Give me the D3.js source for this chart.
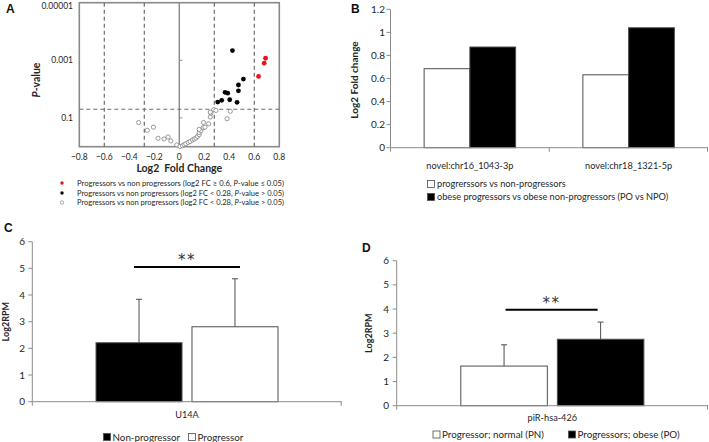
<!DOCTYPE html>
<html><head><meta charset="utf-8">
<script src="https://cdn.jsdelivr.net/npm/d3@7"></script>
<style>
html,body{margin:0;padding:0;background:#fff;}
svg{display:block;font-family:Lato,"Open Sans",sans-serif;}
</style></head>
<body><svg id="c" width="709" height="442"></svg>
<script>
// ---------- DATA ----------
// Panel A: volcano (log2 FC, p-value)
const volcanoRed = [[0.634,0.00363],[0.679,0.00126],[0.690,0.00085]];
const volcanoBlack = [[0.425,0.00046],[0.473,0.0072],[0.473,0.0115],[0.513,0.0045],[0.366,0.0129],
  [0.387,0.0138],[0.339,0.0245],[0.307,0.0282],[0.403,0.0234],[0.462,0.0288]];
const volcanoOpen = [[-0.325,0.145],[-0.256,0.27],[-0.207,0.21],[-0.170,0.51],[-0.122,0.54],[-0.090,0.46],
  [-0.068,0.63],[-0.020,0.87],[0.006,0.98],[0.026,0.93],[0.039,0.85],[0.052,0.79],[0.071,0.71],[0.087,0.66],
  [0.106,0.58],[0.119,0.54],[0.133,0.50],[0.146,0.44],[0.159,0.38],[0.159,0.32],[0.173,0.28],[0.159,0.25],
  [0.191,0.22],[0.205,0.21],[0.194,0.145],[0.235,0.16],[0.248,0.093],[0.253,0.068],[0.275,0.052],[0.293,0.055],
  [0.248,0.063],[0.382,0.107],[0.408,0.059]];
const volcanoFCThresholds = [-0.6,-0.28,0.28,0.6];
const volcanoPThreshold = 0.05;
const volcanoXTicks = [-0.8,-0.6,-0.4,-0.2,0,0.2,0.4,0.6,0.8];
const volcanoYTicks = [0.00001,0.001,0.1];
const volcanoYTickLabels = ["0.00001","0.001","0.1"];
const volcanoLegend = [
  ["Progressors vs non progressors (log2 FC \u2265 0.6, ", "P", "-value \u2264 0.05)"],
  ["Progressors vs non progressors (log2 FC < 0.28, ", "P", "-value > 0.05)"],
  ["Progressors vs non progressors (log2 FC < 0.28, ", "P", "-value > 0.05)"]];

// Panel B
const bCategories = ["novel:chr16_1043-3p","novel:chr18_1321-5p"];
const bSeries = ["progrerssors vs non-progressors","obese progressors vs obese non-progressors (PO vs NPO)"];
const bAll = [0.685, 0.632];
const bObese = [0.873, 1.040];
const bTicks = [0,0.2,0.4,0.6,0.8,1,1.2];
const bTickLabels = ["0","0.2","0.4","0.6","0.8","1","1.2"];

// Panel C
const cCategory = "U14A";
const cGroups = ["Non-progressor","Progressor"];
const cMeans = [2.21, 2.81];
const cErrTop = [3.84, 4.61];
const cSigLevel = 5.05;

// Panel D
const dCategory = "piR-hsa-426";
const dGroups = ["Progressor; normal (PN)","Progressors; obese (PO)"];
const dMeans = [1.64, 2.75];
const dErrTop = [2.52, 3.46];
const dSigLevel = 3.97;
const rpmTicks = [0,1,2,3,4,5,6];

// ---------- DRAW ----------
const svg = d3.select("#c");
const AX = "#8c8c8c", TXT = "#262626", BAR = "#4d4d4d";

function label(t,x,y){ svg.append("text").attr("x",x).attr("y",y).attr("font-family","Arial,Liberation Sans,sans-serif")
  .attr("font-weight","bold").attr("font-size",12).attr("fill","#111").text(t); }

// ===== Panel A =====
(function(){
  const x = d3.scaleLinear().domain([-0.8,0.8]).range([79.3,279.3]);
  const y = d3.scaleLog().domain([1,0.00001]).range([146.7,2.7]);
  const g = svg.append("g");
  g.append("rect").attr("x",x(-0.8)).attr("y",y(0.00001)).attr("width",x(0.8)-x(-0.8)).attr("height",y(1)-y(0.00001))
    .attr("fill","none").attr("stroke","#8a8a8a").attr("stroke-width",1.6);
  g.append("line").attr("x1",x(0)).attr("x2",x(0)).attr("y1",y(1)).attr("y2",y(0.00001)).attr("stroke","#8a8a8a").attr("stroke-width",1.4);
  g.selectAll(".vt").data(volcanoYTicks.slice(1)).join("line").attr("x1",x(0)).attr("x2",x(0)+3)
    .attr("y1",d=>y(d)).attr("y2",d=>y(d)).attr("stroke","#8a8a8a");
  g.selectAll(".vd").data(volcanoFCThresholds).join("line").attr("x1",d=>x(d)).attr("x2",d=>x(d))
    .attr("y1",y(1)).attr("y2",y(0.00001)).attr("stroke","#6e6e6e").attr("stroke-width",1.2).attr("stroke-dasharray","4,3");
  g.append("line").attr("x1",x(-0.8)).attr("x2",x(0.8)).attr("y1",y(volcanoPThreshold)).attr("y2",y(volcanoPThreshold))
    .attr("stroke","#6e6e6e").attr("stroke-width",1.2).attr("stroke-dasharray","4,3");
  g.selectAll(".xt").data(volcanoXTicks).join("text").attr("x",d=>x(d)).attr("y",160).attr("text-anchor","middle")
    .attr("font-size",8.5).attr("fill",TXT).text(d=>d3.format("")(+d.toFixed(1)));
  g.selectAll(".yt").data(volcanoYTicks).join("text").attr("x",73).attr("y",d=>Math.max(y(d)+3,8.5)).attr("text-anchor","end")
    .attr("font-size",8.5).attr("fill",TXT).text((d,i)=>volcanoYTickLabels[i]);
  g.append("text").attr("x",x(0)).attr("y",172).attr("text-anchor","middle").attr("font-weight","bold")
    .attr("font-size",10.5).attr("fill",TXT).attr("xml:space","preserve").text("Log2  Fold Change");
  const yt = g.append("text").attr("transform","translate(40,80) rotate(-90)").attr("text-anchor","middle")
    .attr("font-weight","bold").attr("font-size",10.5).attr("fill",TXT);
  yt.append("tspan").attr("font-style","italic").text("P");
  yt.append("tspan").text("-value");
  g.selectAll(".po").data(volcanoOpen).join("circle").attr("cx",d=>x(d[0])).attr("cy",d=>y(d[1])).attr("r",2.1)
    .attr("fill","#fff").attr("stroke","#808080").attr("stroke-width",0.8);
  g.selectAll(".pb").data(volcanoBlack).join("circle").attr("cx",d=>x(d[0])).attr("cy",d=>y(d[1])).attr("r",2.4).attr("fill","#000");
  g.selectAll(".pr").data(volcanoRed).join("circle").attr("cx",d=>x(d[0])).attr("cy",d=>y(d[1])).attr("r",2.4).attr("fill","#e8141b");
  const ly = [183,193,202.5];
  const mk = [{f:"#e8141b",s:"none"},{f:"#000",s:"none"},{f:"#fff",s:"#808080"}];
  volcanoLegend.forEach((parts,i)=>{
    g.append("circle").attr("cx",62).attr("cy",ly[i]).attr("r",1.7).attr("fill",mk[i].f).attr("stroke",mk[i].s).attr("stroke-width",0.7);
    const t = g.append("text").attr("x",77).attr("y",ly[i]+2.8).attr("font-size",7.2).attr("fill",TXT)
      .attr("textLength",207).attr("lengthAdjust","spacingAndGlyphs");
    t.append("tspan").text(parts[0]);
    t.append("tspan").attr("font-style","italic").text(parts[1]);
    t.append("tspan").text(parts[2]);
  });
  label("A",6,13);
})();

// helper for bar axes
function leftAxis(y, xPos, ticks, labels, labelEnd, fs){
  const g = svg.append("g");
  g.append("line").attr("x1",xPos).attr("x2",xPos).attr("y1",y(ticks[0])).attr("y2",y(ticks[ticks.length-1])).attr("stroke",AX);
  g.selectAll("line.t").data(ticks).join("line").attr("class","t").attr("x1",xPos-4).attr("x2",xPos)
    .attr("y1",d=>y(d)).attr("y2",d=>y(d)).attr("stroke",AX);
  g.selectAll("text").data(ticks).join("text").attr("x",labelEnd).attr("y",d=>y(d)+3.5).attr("text-anchor","end")
    .attr("font-size",fs).attr("fill",TXT).text((d,i)=>labels[i]);
}
function bottomAxis(x0,x1,yPos,tickXs){
  const g = svg.append("g");
  g.append("line").attr("x1",x0).attr("x2",x1).attr("y1",yPos).attr("y2",yPos).attr("stroke",AX);
  g.selectAll("line.t").data(tickXs).join("line").attr("class","t").attr("x1",d=>d).attr("x2",d=>d)
    .attr("y1",yPos).attr("y2",yPos+4).attr("stroke",AX);
}
function ytitle(t,x,y,fs){ svg.append("text").attr("transform",`translate(${x},${y}) rotate(-90)`).attr("text-anchor","middle")
  .attr("font-weight","bold").attr("font-size",fs).attr("fill",TXT).text(t); }

// ===== Panel B =====
(function(){
  const y = d3.scaleLinear().domain([0,1.2]).range([147.7,9.3]);
  const x = d3.scaleBand().domain(bCategories).range([390.5,708]).paddingInner(0).paddingOuter(0);
  const xs = d3.scaleBand().domain([0,1]).range([0,x.bandwidth()]).paddingInner(0).paddingOuter(0.735);
  const fills = ["#fff","#000"];
  const rows = bCategories.map((c,i)=>[bAll[i],bObese[i]]);
  bCategories.forEach((c,i)=>{
    svg.selectAll(null).data(rows[i]).join("rect").attr("x",(d,j)=>x(c)+xs(j)).attr("width",xs.bandwidth())
      .attr("y",d=>y(d)).attr("height",d=>y(0)-y(d)).attr("fill",(d,j)=>fills[j]).attr("stroke",BAR).attr("stroke-width",1);
  });
  leftAxis(y,390.5,bTicks,bTickLabels,385,10);
  bottomAxis(390.5,708,y(0),[x(bCategories[0]),x(bCategories[1]),708-0.5]);
  svg.selectAll(null).data(bCategories).join("text").attr("x",d=>x(d)+x.bandwidth()/2).attr("y",168.5)
    .attr("text-anchor","middle").attr("font-size",9.2).attr("fill",TXT).text(d=>d);
  ytitle("Log2 Fold change",358,80,10);
  const ly=[184,197];
  bSeries.forEach((s,i)=>{
    svg.append("rect").attr("x",427.5).attr("y",ly[i]-3.5).attr("width",7).attr("height",7).attr("fill",fills[i]).attr("stroke",BAR).attr("stroke-width",0.8);
    svg.append("text").attr("x",437).attr("y",ly[i]+3.3).attr("font-size",9.2).attr("fill",TXT).text(s);
  });
  label("B",351,13);
})();

// ===== generic bar + error panel =====
function barPanel(o){
  const y = d3.scaleLinear().domain([0,6]).range(o.yr);
  const x = d3.scaleBand().domain([o.cat]).range(o.xr).paddingOuter(0).paddingInner(0);
  const xs = d3.scaleBand().domain([0,1]).range([x(o.cat),x(o.cat)+x.bandwidth()]).paddingInner(0.104).paddingOuter(0.664);
  svg.selectAll(null).data(o.means).join("rect").attr("x",(d,j)=>xs(j)).attr("width",xs.bandwidth())
    .attr("y",d=>y(d)).attr("height",d=>y(0)-y(d)).attr("fill",(d,j)=>o.fills[j]).attr("stroke",BAR).attr("stroke-width",1);
  o.means.forEach((m,j)=>{
    const cx = xs(j)+xs.bandwidth()/2;
    svg.append("line").attr("x1",cx).attr("x2",cx).attr("y1",y(m)).attr("y2",y(o.err[j])).attr("stroke",BAR).attr("stroke-width",1);
    svg.append("line").attr("x1",cx-3).attr("x2",cx+3).attr("y1",y(o.err[j])).attr("y2",y(o.err[j])).attr("stroke",BAR).attr("stroke-width",1);
  });
  const c0 = xs(0)+xs.bandwidth()/2 + o.sigPad, c1 = xs(1)+xs.bandwidth()/2 + o.sigPad2;
  svg.append("line").attr("x1",c0).attr("x2",c1).attr("y1",y(o.sig)).attr("y2",y(o.sig)).attr("stroke","#000").attr("stroke-width",2);
  svg.append("text").attr("x",(c0+c1)/2).attr("y",y(o.sig)-2).attr("text-anchor","middle").attr("font-size",15)
    .attr("font-family","DejaVu Sans,sans-serif").attr("fill","#333").attr("letter-spacing",1.5).text("**");
  leftAxis(y,o.xr[0],rpmTicks,rpmTicks.map(String),o.labEnd,10);
  bottomAxis(o.xr[0],o.xr[1],y(0),[o.xr[0],o.xr[1]-0.5]);
  svg.append("text").attr("x",x(o.cat)+x.bandwidth()/2).attr("y",o.catY).attr("text-anchor","middle")
    .attr("font-size",9.2).attr("fill",TXT).text(o.cat);
  ytitle("Log2RPM",o.titleX,(o.yr[0]+o.yr[1])/2+o.titleDy,9);
  o.groups.forEach((gname,j)=>{
    svg.append("rect").attr("x",o.legX[j]).attr("y",o.legY-3.5).attr("width",7).attr("height",7).attr("fill",o.fills[j]).attr("stroke",BAR).attr("stroke-width",0.8);
    svg.append("text").attr("x",o.legX[j]+9).attr("y",o.legY+3.5).attr("font-size",9.8).attr("fill",TXT).text(gname);
  });
}
barPanel({cat:cCategory,groups:cGroups,means:cMeans,err:cErrTop,sig:cSigLevel,yr:[401.7,241.7],xr:[32.3,341.7],
  fills:["#000","#fff"],sigPad:-5,sigPad2:5,labEnd:25,catY:417.5,titleX:9,titleDy:0,legX:[103.5,188.5],legY:437});
label("C",4,232);
barPanel({cat:dCategory,groups:dGroups,means:dMeans,err:dErrTop,sig:dSigLevel,yr:[405.7,260.7],xr:[396.7,708],
  fills:["#fff","#000"],sigPad:1.5,sigPad2:-3,labEnd:389,catY:421,titleX:372,titleDy:0,legX:[433,568.5],legY:434.5});
label("D",362,252);
</script></body></html>
